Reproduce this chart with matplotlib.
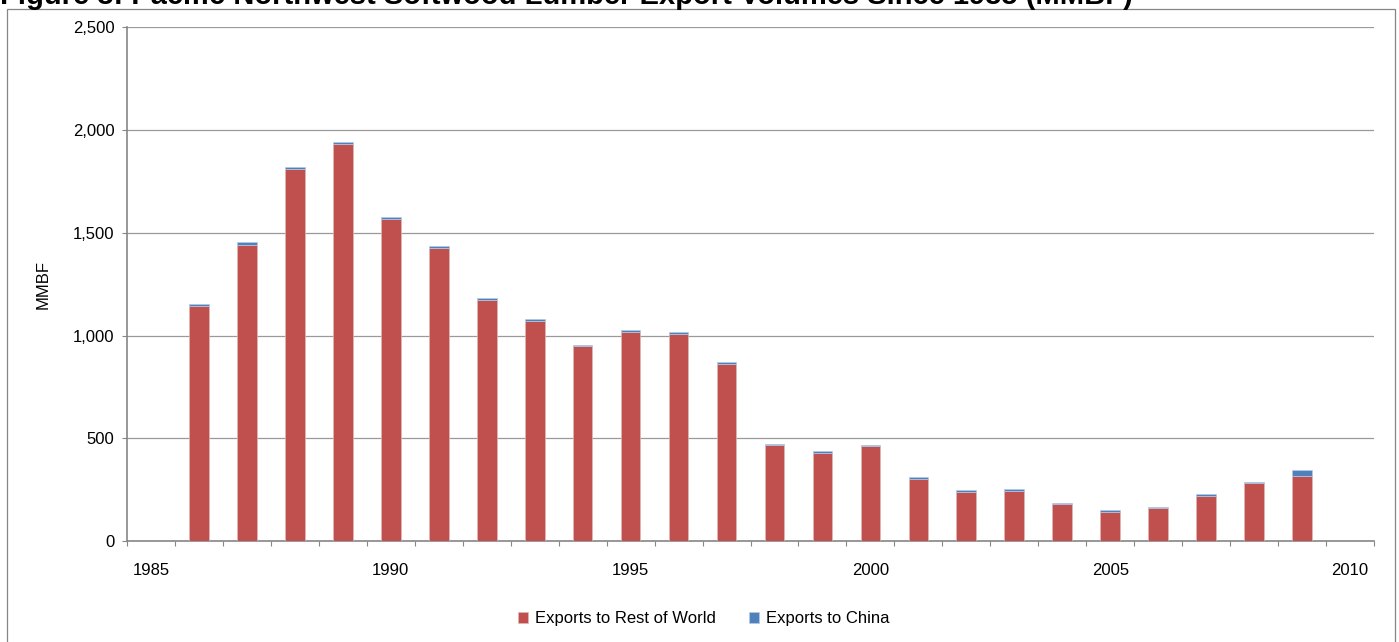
import matplotlib
matplotlib.use("Agg")
import matplotlib.pyplot as plt
from matplotlib.patches import Rectangle
from matplotlib.ticker import FuncFormatter, FixedLocator

# Pacific Northwest softwood lumber exports (MMBF)
years = [1986, 1987, 1988, 1989, 1990, 1991, 1992, 1993, 1994, 1995, 1996, 1997,
         1998, 1999, 2000, 2001, 2002, 2003, 2004, 2005, 2006, 2007, 2008, 2009]
rest_of_world = [1145, 1440, 1812, 1933, 1570, 1428, 1174, 1071, 950, 1020, 1007, 864,
                 466, 431, 461, 302, 241, 242, 181, 141, 160, 222, 283, 317]
china = [8, 14, 8, 8, 9, 7, 8, 8, 6, 8, 9, 9,
         8, 8, 6, 9, 10, 14, 7, 13, 8, 8, 7, 28]

x_label_years = [1985, 1990, 1995, 2000, 2005, 2010]
y_ticks = [0, 500, 1000, 1500, 2000, 2500]

title = "Figure 3: Pacific Northwest Softwood Lumber Export Volumes Since 1985 (MMBF)"
series_names = ["Exports to Rest of World", "Exports to China"]

RED = "#C0504D"
BLUE = "#4F81BD"
GRID = "#9a9a9a"
AXIS = "#868686"

plt.rcParams["font.family"] = ["Liberation Sans", "DejaVu Sans"]

W, H = 1399, 642
fig = plt.figure(figsize=(W / 100, H / 100), dpi=100)

# plot area in pixel terms
left, right, top, bottom = 127, 1374, 27.4, 541.2
ax = fig.add_axes([left / W, 1 - bottom / H, (right - left) / W, (bottom - top) / H])

bar_w = 0.41
ax.bar(years, rest_of_world, width=bar_w, color=RED, edgecolor="#e3b6b5",
       linewidth=0.5, label=series_names[0], zorder=3)
ax.bar(years, china, width=bar_w, bottom=rest_of_world, color=BLUE,
       edgecolor="#b7cbe4", linewidth=0.5, label=series_names[1], zorder=3)

ax.set_xlim(1984.5, 2010.5)
ax.set_ylim(0, 2500)

# horizontal gridlines
ax.yaxis.set_major_locator(FixedLocator(y_ticks))
ax.yaxis.set_major_formatter(FuncFormatter(lambda v, p: f"{int(v):,}"))
ax.grid(axis="y", color=GRID, linewidth=0.9, zorder=0)
ax.set_axisbelow(True)

for s in ("top", "right"):
    ax.spines[s].set_visible(False)
for s in ("left", "bottom"):
    ax.spines[s].set_color(AXIS)
    ax.spines[s].set_linewidth(1.2)

ax.tick_params(axis="y", direction="out", length=3.6, width=0.8, color=AXIS,
               labelsize=12, pad=5.5, labelcolor="black")

# category boundaries get tick marks, year labels sit at category centres
ax.xaxis.set_major_locator(FixedLocator(x_label_years))
ax.xaxis.set_minor_locator(FixedLocator([1984.5 + k for k in range(27)]))
ax.tick_params(axis="x", which="major", length=0, labelsize=12, pad=15.5)
ax.tick_params(axis="x", which="minor", direction="out", length=3.6, width=0.8,
               color=AXIS)

fig.text(43.5 / W, 1 - 284 / H, "MMBF", rotation=90, ha="center", va="center",
         fontsize=12)

# title (runs off the top edge)
fig.text(0.0, 1 - 4 / H, title, ha="left", va="baseline", fontsize=21,
         fontweight="bold")

# chart area border
fig.add_artist(Rectangle((7 / W, -0.05), (1395 - 7) / W, 1.05 - 9 / H,
                         transform=fig.transFigure, fill=False,
                         edgecolor=AXIS, linewidth=0.9))

fig.legend(loc="center", bbox_to_anchor=(703.5 / W, 1 - 619 / H), ncol=2,
           frameon=False, fontsize=12, handlelength=0.6, handleheight=0.6,
           handletextpad=0.4, columnspacing=2.0)

fig.savefig("out.png", dpi=100)
